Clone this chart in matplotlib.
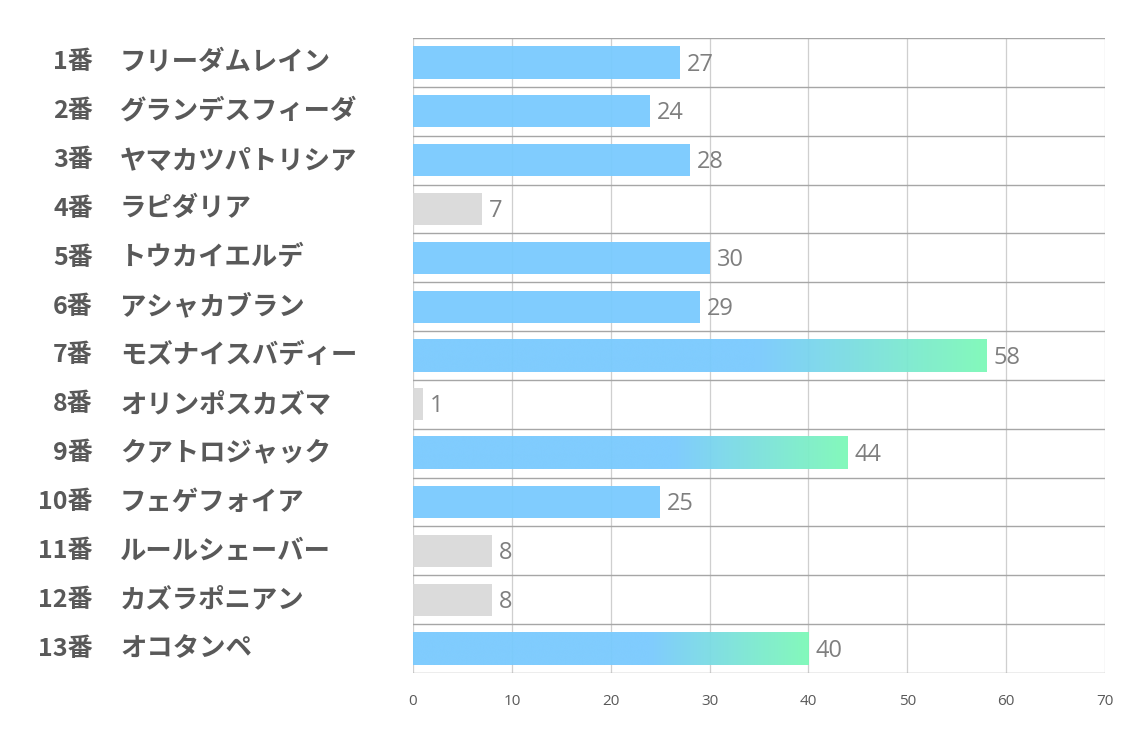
import matplotlib.pyplot as plt
import numpy as np
from matplotlib.colors import LinearSegmentedColormap

plt.rcParams['font.family'] = ['Noto Sans CJK JP', 'DejaVu Sans']

# data
numbers = ["1番", "2番", "3番", "4番", "5番", "6番", "7番", "8番", "9番", "10番", "11番", "12番", "13番"]
names = ["フリーダムレイン", "グランデスフィーダ", "ヤマカツパトリシア", "ラピダリア", "トウカイエルデ",
         "アシャカブラン", "モズナイスバディー", "オリンポスカズマ", "クアトロジャック", "フェゲフォイア",
         "ルールシェーバー", "カズラポニアン", "オコタンペ"]
values = [27, 24, 28, 7, 30, 29, 58, 1, 44, 25, 8, 8, 40]
xticks = [0, 10, 20, 30, 40, 50, 60, 70]

blue = "#79CAFE"
green = "#7DF9B8"
gray = "#D9D9D9"

fig = plt.figure(figsize=(11.34, 7.37), dpi=100)
ax = fig.add_axes([413 / 1134, 1 - 673 / 737, (1105 - 413) / 1134, (673 - 38) / 737])

n = len(values)
h = 0.66
top3 = sorted(values, reverse=True)[:3]

# gradient blue -> green for the top 3 horses
cmap = LinearSegmentedColormap.from_list("bg", [(0, blue), (0.6, blue), (1, green)])
grad = np.linspace(0, 1, 256).reshape(1, -1)

for i, v in enumerate(values):
    if v in top3:
        ax.imshow(grad, cmap=cmap, extent=(0, v, i + h / 2, i - h / 2), alpha=0.95,
                  aspect='auto', zorder=1, interpolation='bicubic')
    elif v < 10:
        ax.barh(i, v, height=h, color=gray, alpha=0.95, zorder=1)
    else:
        ax.barh(i, v, height=h, color=blue, alpha=0.95, zorder=1)
    ax.annotate(str(v), (v, i), xytext=(5, -1.5), textcoords='offset points',
                va='center', ha='left', fontsize=17, color='#7F7F7F',
                family=['Open Sans', 'DejaVu Sans'])

ax.set_xlim(0, 70)
ax.set_ylim(n - 0.5, -0.5)
ax.set_aspect('auto')

# grid
for x in xticks:
    ax.axvline(x, color='#CFCFCF', lw=0.9, zorder=0)
for b in np.arange(-0.5, n, 1.0):
    ax.axhline(b, color='#A6A6A6', lw=1.0, zorder=3)

for s in ax.spines.values():
    s.set_visible(False)

ax.set_xticks(xticks)
ax.set_xticklabels([str(t) for t in xticks], family=['Open Sans', 'DejaVu Sans'])
ax.tick_params(axis='x', length=0, pad=15, labelsize=11, labelcolor='#595959')
ax.set_yticks([])

# left labels: number right-aligned, horse name left-aligned
trans = ax.get_yaxis_transform()
for i in range(n):
    ax.annotate(numbers[i], xy=(0, i), xycoords=trans,
                xytext=(93 - 413, 0), textcoords='offset pixels',
                ha='right', va='center', fontsize=18, fontweight='bold', color='#595959')
    ax.annotate(names[i], xy=(0, i), xycoords=trans,
                xytext=(120 - 413, 0), textcoords='offset pixels',
                ha='left', va='center', fontsize=19, fontweight='bold', color='#595959')

fig.savefig("out.png", dpi=100)
